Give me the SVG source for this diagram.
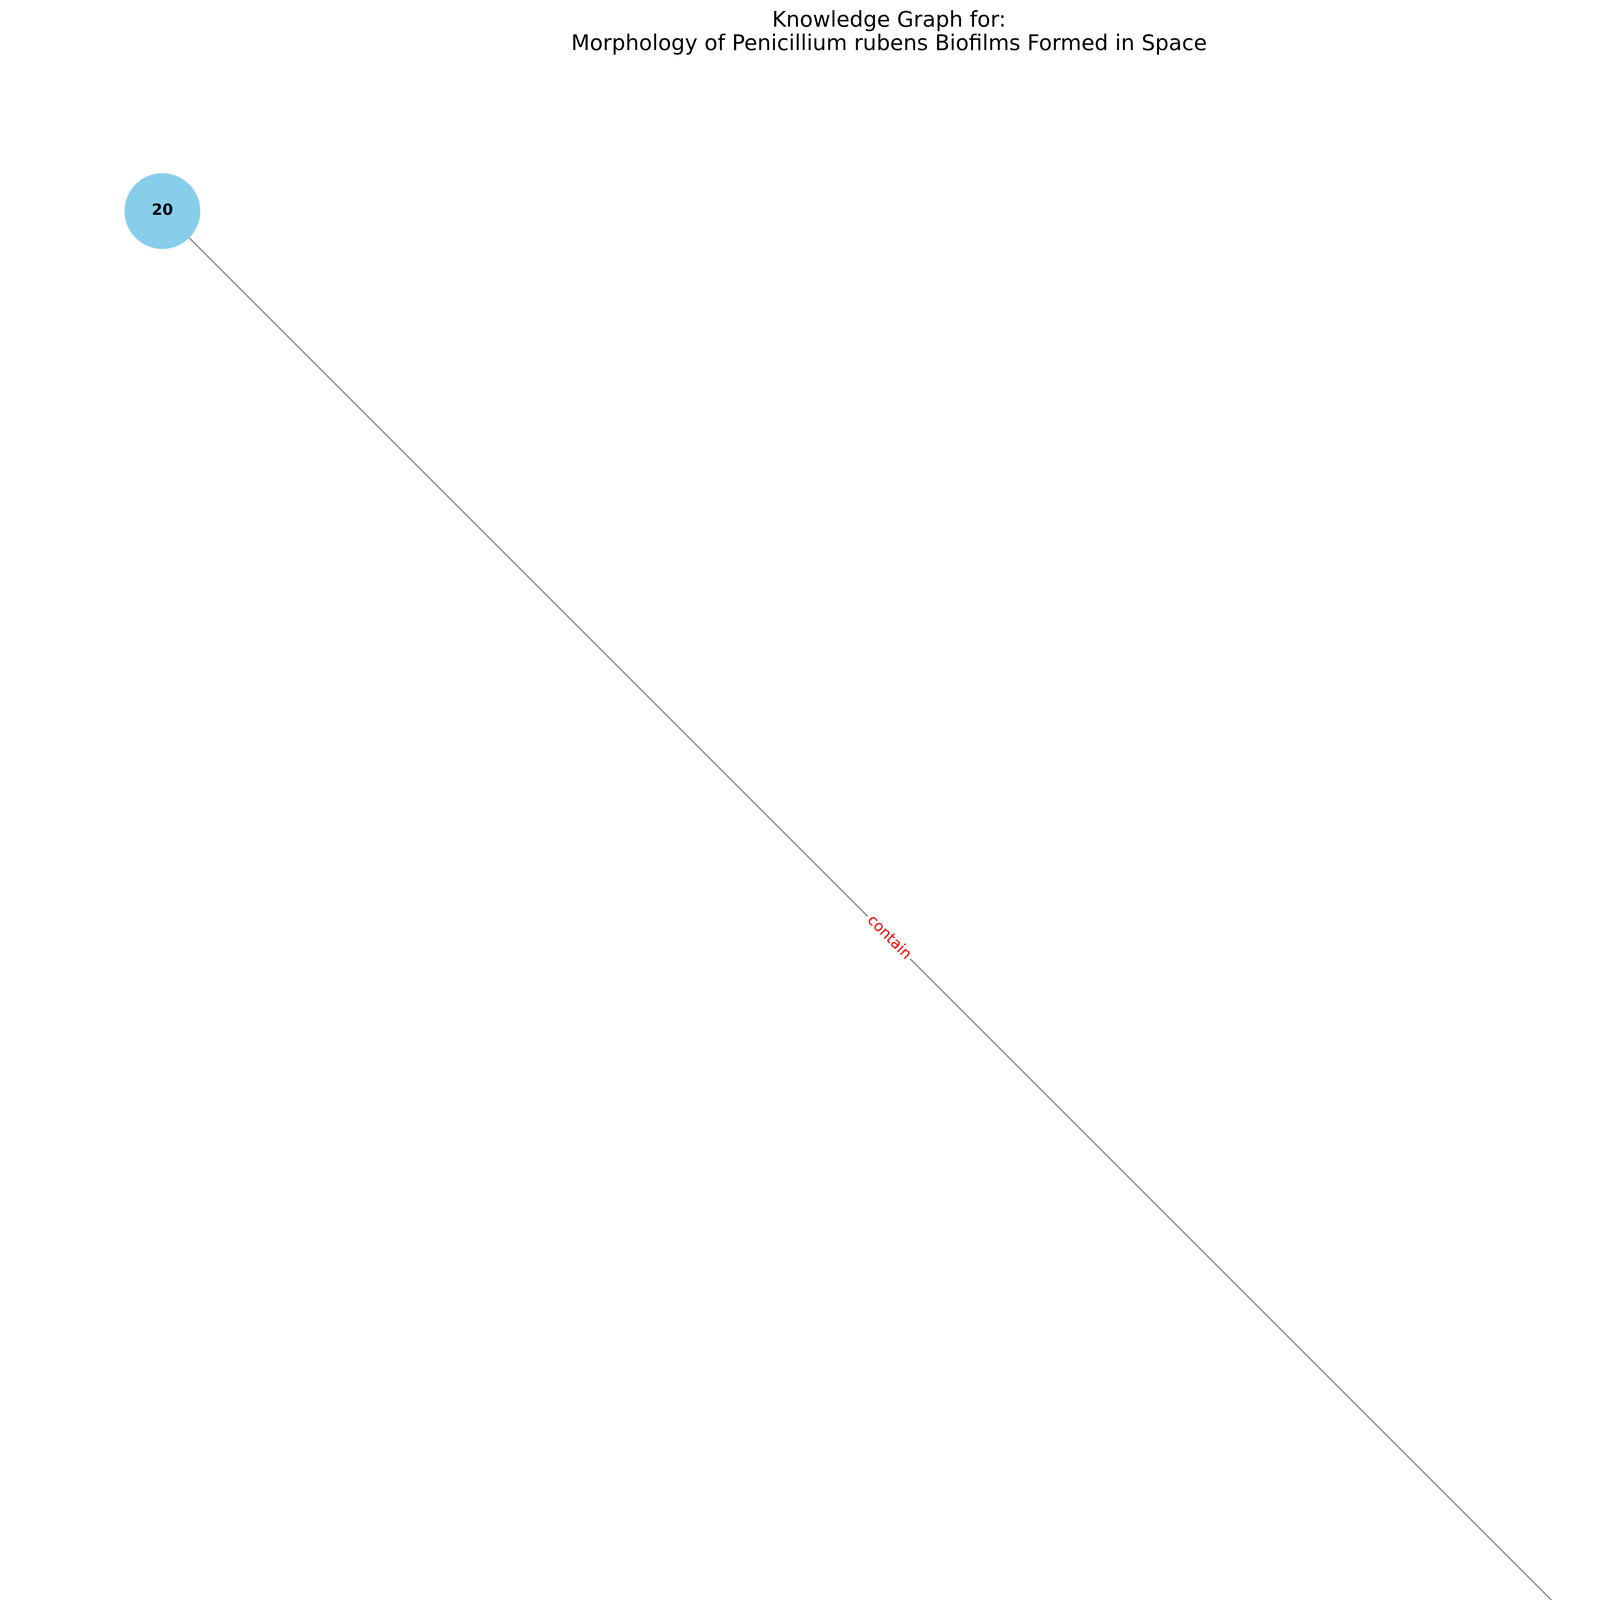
<svg xmlns="http://www.w3.org/2000/svg" width="4550" height="4675" viewBox="0 0 4550 4675">
  <style>
    .node circle { fill: #87CEEB; }
    .node text { font-family: "DejaVu Sans", sans-serif; font-weight: bold; font-size: 39px; fill: #000000; text-anchor: middle; }
    .edge { stroke: #808080; stroke-width: 3; fill: none; }
    .elabel text { font-family: "DejaVu Sans", sans-serif; font-size: 38px; fill: #FF0000; text-anchor: middle; }
    .title { font-family: "DejaVu Sans", sans-serif; font-size: 55px; fill: #000000; text-anchor: middle; }
  </style>
  <defs>
    <marker id="arrow" markerUnits="userSpaceOnUse" viewBox="0 0 17 17" markerWidth="17" markerHeight="17" refX="0" refY="8.5" orient="auto">
      <path d="M0,0 L17,8.5 L0,17 Z" fill="#808080"/>
    </marker>
  </defs>
  <rect x="0" y="0" width="4550" height="4675" fill="#FFFFFF"/>
  <g id="title">
    <text class="title" x="2276" y="68">Knowledge Graph for:</text>
    <text class="title" x="2276" y="128">Morphology of Penicillium rubens Biofilms Formed in Space</text>
  </g>
  <g id="connectors">
    <path class="edge" d="M484.3,608.9 L4055.1,4179.7" marker-end="url(#arrow)"/>
    <g class="elabel" transform="translate(2275.7,2400.3) rotate(45)">
      <rect x="-77" y="-30" width="154" height="60" rx="11" ry="11" fill="#FFFFFF"/>
      <text x="0" y="10">contain</text>
    </g>
  </g>
  <g id="node-20" class="node">
    <circle cx="415.7" cy="540.3" r="97"/>
    <text x="415.7" y="550">20</text>
  </g>
  <g id="node-cells" class="node">
    <circle cx="4135.7" cy="4260.3" r="97"/>
    <text x="4135.7" y="4270">cells</text>
  </g>
</svg>
